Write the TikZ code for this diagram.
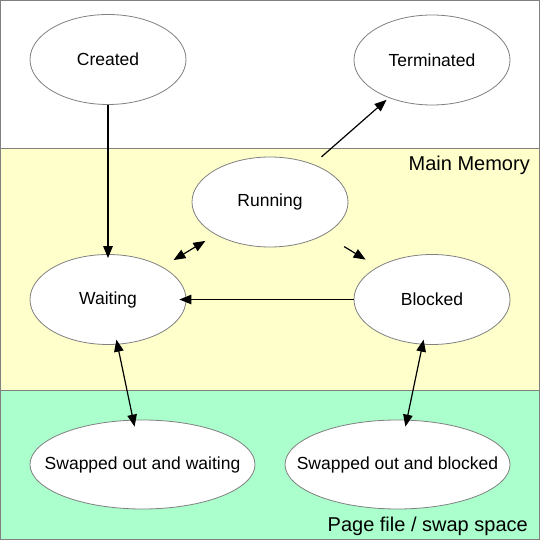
\documentclass[tikz,border=0pt]{standalone}
\usepackage{fontspec}
\setmainfont{Liberation Sans}
\usetikzlibrary{arrows.meta, shapes.geometric}
\definecolor{memyellow}{RGB}{255,255,204}
\definecolor{swapgreen}{RGB}{170,255,204}
\definecolor{edgegray}{RGB}{128,128,128}

\begin{document}
\begin{tikzpicture}[x=1pt, y=-1pt,
        state/.style={ellipse, draw=edgegray, fill=white, line width=0.8pt, inner sep=0pt,
            minimum width=156pt, minimum height=90pt, font=\fontsize{17.5}{21}\selectfont},
        wide/.style={minimum width=225pt, minimum height=89pt},
        flow/.style={line width=1.2pt, >={Triangle[length=12pt,width=9.5pt]}},
        region/.style={inner sep=0pt, anchor=base east, font=\fontsize{20}{24}\selectfont}]
        \useasboundingbox (0,0) rectangle (540,540);
        % bands
        \foreach \ya/\yb/\col in {0.5/149/white, 149/390/memyellow, 390/539.5/swapgreen} {
            \filldraw[fill=\col, draw=edgegray, line width=1pt] (0.5,\ya) rectangle (539.5,\yb);
        }
        \node[region] (mainmem) at (530,171) {Main Memory};
        \node[region] (pagefile) at (528,531) {Page file / swap space};
        % states
        \node[state] (created) at (108,59.5) {\makebox[0pt]{Created}};
        \node[state] (terminated) at (432,60) {\makebox[0pt]{Terminated}};
        \node[state] (running) at (270,202) {\makebox[0pt]{Running}};
        \node[state] (waiting) at (108,299.5) {\makebox[0pt]{Waiting}};
        \node[state] (blocked) at (432,299.5) {\makebox[0pt]{Blocked}};
        \node[state, wide] (swapwait) at (142.5,464.5) {\makebox[0pt]{Swapped out and waiting}};
        \node[state, wide] (swapblock) at (397.5,464.5) {\makebox[0pt]{Swapped out and blocked}};
        % transitions
        \draw[flow, ->, shorten >=-4pt] (created) -- (waiting);
        \draw[flow, ->, shorten <=11pt, shorten >=3pt] (running) -- (terminated);
        \draw[flow, <->, shorten <=12pt, shorten >=13pt] (running) -- (waiting);
        \draw[flow, ->, shorten <=23pt, shorten >=14pt] (running) -- (blocked);
        \draw[flow, ->, shorten >=-7pt] (blocked) -- (waiting);
        \draw[flow, <->, shorten <=-5pt, shorten >=-7pt] (waiting) -- (swapwait);
        \draw[flow, <->, shorten <=-5pt, shorten >=-7pt] (blocked) -- (swapblock);
    \end{tikzpicture}
\end{document}
